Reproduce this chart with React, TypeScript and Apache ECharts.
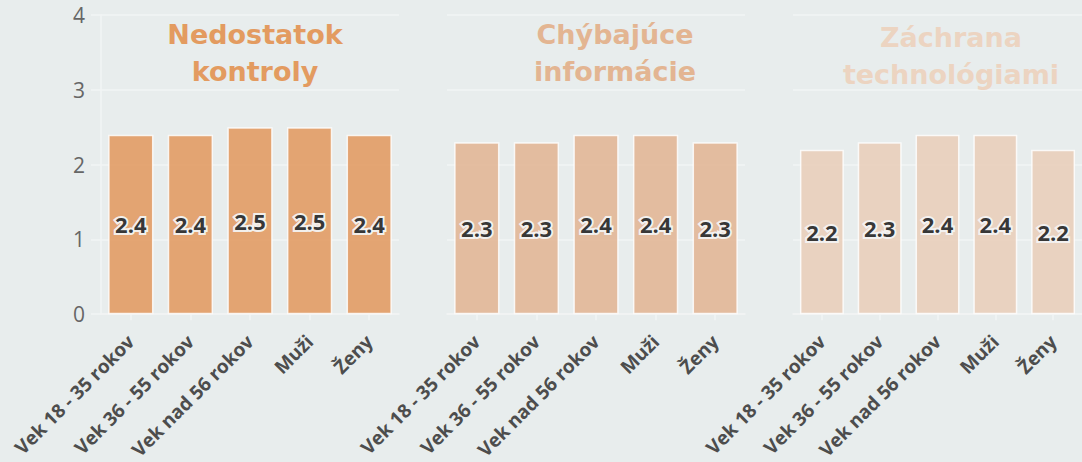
import React, { useEffect, useRef } from "react";
import * as echarts from "echarts";

const categories = ["Vek 18 - 35 rokov", "Vek 36 - 55 rokov", "Vek nad 56 rokov", "Muži", "Ženy"];
const panelTitles = ["Nedostatok\nkontroly", "Chýbajúce\ninformácie", "Záchrana\ntechnológiami"];
const kontrolyValues = [2.4, 2.4, 2.5, 2.5, 2.4];
const informacieValues = [2.3, 2.3, 2.4, 2.4, 2.3];
const technologieValues = [2.2, 2.3, 2.4, 2.4, 2.2];
const yTicks = [0, 1, 2, 3, 4];

const seriesData = [kontrolyValues, informacieValues, technologieValues];
const barColors = ["#e3a06c", "#e3b99b", "#e9d1be"];
const titleColors = ["#e39b60", "#e3b592", "#ecd4c1"];
const gridLefts = [101, 447, 793];
const titleCenters = [250, 610, 946];
const titleTops = [11, 11, 14];

export default function App() {
  const ref = useRef<HTMLDivElement>(null);
  useEffect(() => {
    if (!ref.current) return;
    const chart = echarts.init(ref.current, null, { renderer: "svg" });
    const lineColor = "#f2f4f4";
    const option: any = {
      animation: false,
      backgroundColor: "#e8eded",
      textStyle: { fontFamily: "Open Sans" },
      title: panelTitles.map((t, i) => ({
        text: t,
        left: titleCenters[i],
        top: titleTops[i],
        textAlign: "center",
        textStyle: {
          fontFamily: "DejaVu Sans",
          fontSize: 27,
          fontWeight: "bold",
          lineHeight: 37,
          color: titleColors[i],
        },
      })),
      grid: gridLefts.map((l) => ({ left: l, width: 298, top: 15, height: 300 })),
      xAxis: gridLefts.map((_, i) => ({
        type: "category",
        gridIndex: i,
        data: categories,
        axisLine: { show: true, lineStyle: { color: lineColor, width: 1.5 } },
        axisTick: { show: true, alignWithLabel: true, length: 6, lineStyle: { color: lineColor, width: 1.5 } },
        axisLabel: {
          interval: 0,
          rotate: 45,
          margin: 24,
          fontFamily: "Open Sans",
          fontSize: 19,
          fontWeight: "bold",
          color: "#4d4d4d",
        },
      })),
      yAxis: gridLefts.map((_, i) => ({
        type: "value",
        gridIndex: i,
        min: yTicks[0],
        max: yTicks[yTicks.length - 1],
        interval: 1,
        axisLine: { show: i === 0, lineStyle: { color: lineColor, width: 1.5 } },
        axisTick: { show: i === 0, length: 10, lineStyle: { color: lineColor, width: 1.5 } },
        axisLabel: {
          show: i === 0,
          margin: 16,
          fontFamily: "Open Sans",
          fontSize: 21,
          color: "#666",
        },
        splitLine: { show: true, lineStyle: { color: lineColor, width: 1.5 } },
      })),
      series: seriesData.map((d, i) => ({
        type: "bar",
        xAxisIndex: i,
        yAxisIndex: i,
        data: d,
        barCategoryGap: "24%",
        itemStyle: {
          color: barColors[i],
          opacity: 0.95,
          borderColor: "rgba(255,255,255,0.85)",
          borderWidth: 1.5,
        },
        label: {
          show: true,
          position: "inside",
          formatter: (p: any) => Number(p.value).toFixed(1),
          fontFamily: "Open Sans",
          fontSize: 22,
          fontWeight: "bold",
          color: "#2b2b2b",
          textBorderColor: "#f4f4f4",
          textBorderWidth: 4,
        },
      })),
    };
    chart.setOption(option);
    return () => chart.dispose();
  }, []);
  return (
    <div
      ref={ref}
      style={{ position: "fixed", left: 0, top: 0, width: 1082, height: 462 }}
    />
  );
}
